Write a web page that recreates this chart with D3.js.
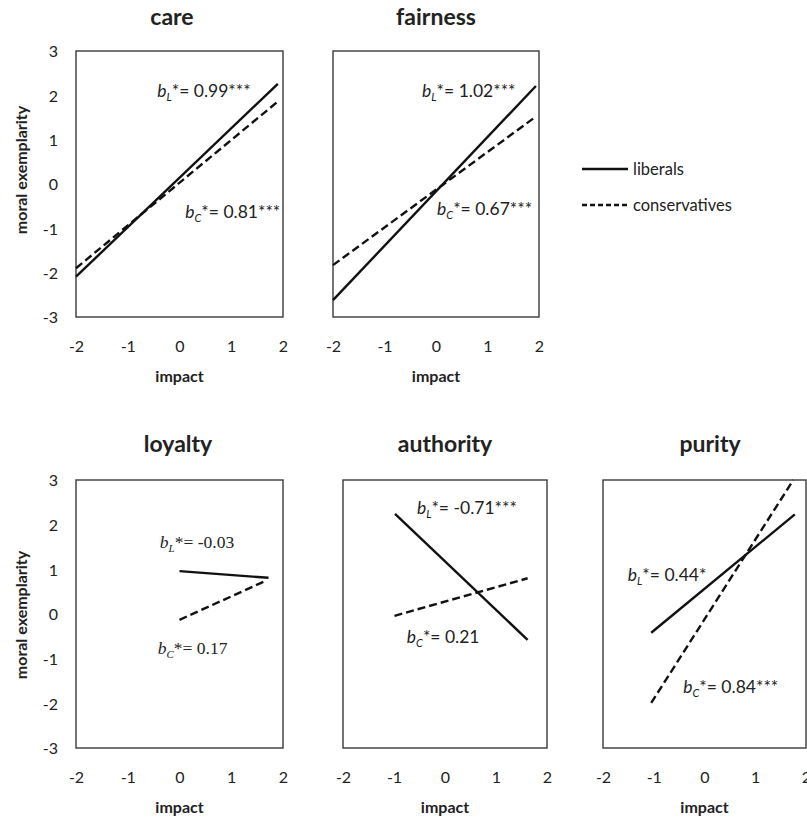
<!DOCTYPE html>
<html>
<head>
<meta charset="utf-8">
<script src="https://cdn.jsdelivr.net/npm/d3@7/dist/d3.min.js"></script>
<style>
  html, body { margin: 0; padding: 0; background: #fff; }
  svg { display: block; }
</style>
</head>
<body>
<svg id="chart" width="807" height="822"></svg>
<script>
// Moral foundations: simple slopes of moral exemplarity on impact,
// for liberals (solid) and conservatives (dashed).
const foundations = ["care", "fairness", "loyalty", "authority", "purity"];

// Line endpoints [start, end] in axis units
const liberalX      = [[-2, 1.9], [-2, 1.94], [0, 1.72], [-0.98, 1.62], [-1.05, 1.78]];
const liberalY      = [[-2.09, 2.26], [-2.62, 2.21], [0.96, 0.81], [2.24, -0.58], [-0.42, 2.23]];
const conservativeX = [[-2, 1.9], [-2, 1.94], [0, 1.68], [-0.99, 1.62], [-1.05, 1.75]];
const conservativeY = [[-1.9, 1.86], [-1.83, 1.52], [-0.13, 0.75], [-0.04, 0.8], [-1.99, 3.0]];

// Standardised slope labels
const liberalB      = ["0.99***", "1.02***", "-0.03", "-0.71***", "0.44*"];
const conservativeB = ["0.81***", "0.67***", "0.17", "0.21", "0.84***"];

const xTicks = [-2, -1, 0, 1, 2];
const yTicks = [-3, -2, -1, 0, 1, 2, 3];
const legendLabels = ["liberals", "conservatives"];

// ---- layout ----
const boxes = [
  { x0: 76,  x1: 283, y0: 51,  y1: 317, titleX: 172, titleY: 25,  yAxis: true,  yTitleY: 170 },
  { x0: 333, x1: 539, y0: 51,  y1: 317, titleX: 436, titleY: 25,  yAxis: false },
  { x0: 76,  x1: 283, y0: 480, y1: 748, titleX: 178, titleY: 452, yAxis: true,  yTitleY: 615 },
  { x0: 343, x1: 547, y0: 480, y1: 748, titleX: 445, titleY: 452, yAxis: false },
  { x0: 603, x1: 806, y0: 480, y1: 748, titleX: 710, titleY: 452, yAxis: false }
];
// label anchors (axis units): start x, baseline y
const labelPosL = [[-0.43, 1.96], [-0.27, 1.96], [-0.38, 1.48], [-0.55, 2.24], [-1.51, 0.74]];
const labelPosC = [[0.11, -0.77], [0.02, -0.70], [-0.42, -0.90], [-0.75, -0.65], [-0.42, -1.77]];
const serifLabels = [false, false, true, false, false];

const FONT = "Lato, 'Open Sans', sans-serif";
const INK = "#222";
const LINE = "#111";
const tickFmt = d => String(d);   // plain hyphen-minus, as in the printed figure

const svg = d3.select("#chart");

function slopeLabel(g, x, y, group, value, serif) {
  const t = g.append("text")
    .attr("x", x).attr("y", y)
    .attr("font-family", serif ? "'Liberation Serif', serif" : FONT)
    .attr("font-size", serif ? 17.5 : 17.5)
    .attr("fill", INK);
  t.append("tspan").attr("font-style", "italic").text("b");
  t.append("tspan").attr("font-style", "italic").attr("font-size", 11).attr("dy", 4).text(group);
  t.append("tspan").attr("dy", -4).text("*= " + value);
}

foundations.forEach((name, i) => {
  const b = boxes[i];
  const x = d3.scaleLinear().domain([-2, 2]).range([b.x0, b.x1]);
  const y = d3.scaleLinear().domain([-3, 3]).range([b.y1, b.y0]);
  const g = svg.append("g");

  // plot frame
  g.append("rect")
    .attr("x", b.x0).attr("y", b.y0)
    .attr("width", b.x1 - b.x0).attr("height", b.y1 - b.y0)
    .attr("fill", "none").attr("stroke", "#3a3a3a").attr("stroke-width", 1.4);

  // title
  g.append("text")
    .attr("x", b.titleX).attr("y", b.titleY)
    .attr("text-anchor", "middle")
    .attr("font-family", FONT).attr("font-weight", 700).attr("font-size", 23)
    .attr("fill", INK).text(name);

  // x axis labels
  const xAxis = d3.axisBottom(x).tickValues(xTicks).tickSize(0).tickPadding(0)
    .tickFormat(tickFmt);
  const xa = g.append("g").attr("transform", `translate(0,${b.y1 + 35})`).call(xAxis);
  xa.select(".domain").remove();
  xa.selectAll("text")
    .attr("y", 0).attr("dy", 0)
    .attr("font-family", FONT).attr("font-size", 16).attr("fill", INK);

  g.append("text")
    .attr("x", (b.x0 + b.x1) / 2).attr("y", b.y1 + 65)
    .attr("text-anchor", "middle")
    .attr("font-family", FONT).attr("font-weight", 700).attr("font-size", 16)
    .attr("fill", INK).text("impact");

  // y axis labels
  if (b.yAxis) {
    const yAxis = d3.axisLeft(y).tickValues(yTicks).tickSize(0).tickPadding(0)
      .tickFormat(tickFmt);
    const ya = g.append("g").attr("transform", `translate(${b.x0 - 18},0)`).call(yAxis);
    ya.select(".domain").remove();
    ya.selectAll("text")
      .attr("x", 0).attr("dy", "0.36em")
      .attr("font-family", FONT).attr("font-size", 16).attr("fill", INK);

    g.append("text")
      .attr("transform", `translate(27,${b.yTitleY}) rotate(-90)`)
      .attr("text-anchor", "middle")
      .attr("font-family", FONT).attr("font-weight", 700).attr("font-size", 16)
      .attr("fill", INK).text("moral exemplarity");
  }

  const line = d3.line().x(d => x(d[0])).y(d => y(d[1]));
  const libPts = [[liberalX[i][0], liberalY[i][0]], [liberalX[i][1], liberalY[i][1]]];
  const conPts = [[conservativeX[i][0], conservativeY[i][0]], [conservativeX[i][1], conservativeY[i][1]]];

  g.append("path").attr("d", line(conPts))
    .attr("fill", "none").attr("stroke", LINE).attr("stroke-width", 2.4)
    .attr("stroke-dasharray", "8,4");
  g.append("path").attr("d", line(libPts))
    .attr("fill", "none").attr("stroke", LINE).attr("stroke-width", 2.4);

  slopeLabel(g, x(labelPosL[i][0]), y(labelPosL[i][1]), "L", liberalB[i], serifLabels[i]);
  slopeLabel(g, x(labelPosC[i][0]), y(labelPosC[i][1]), "C", conservativeB[i], serifLabels[i]);
});

// legend
const legend = svg.append("g");
legendLabels.forEach((lab, i) => {
  const ly = 169 + i * 36;
  legend.append("line")
    .attr("x1", 582).attr("x2", 628).attr("y1", ly).attr("y2", ly)
    .attr("stroke", LINE).attr("stroke-width", 2.4)
    .attr("stroke-dasharray", i === 0 ? null : "5,3");
  legend.append("text")
    .attr("x", 633).attr("y", ly).attr("dy", "0.34em")
    .attr("font-family", FONT).attr("font-size", 16.5).attr("fill", INK)
    .text(lab);
});
</script>
</body>
</html>
